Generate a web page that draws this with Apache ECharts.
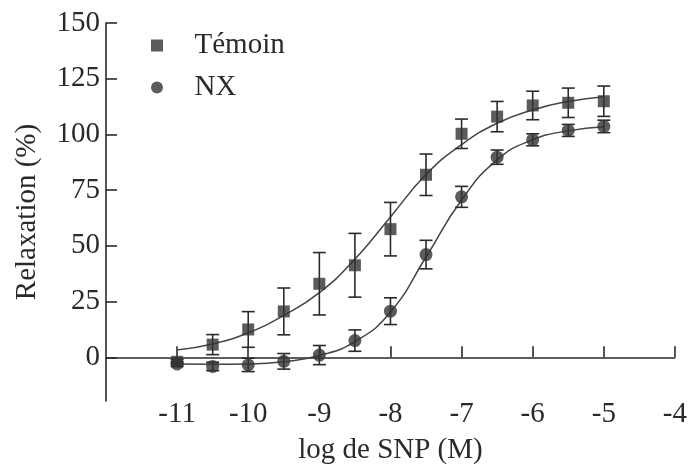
<!DOCTYPE html>
<html>
<head>
<meta charset="utf-8">
<script src="https://cdn.jsdelivr.net/npm/echarts@6/dist/echarts.min.js"></script>
<style>html,body{margin:0;padding:0;background:#fff}#c{width:690px;height:470px}</style>
</head>
<body>
<div id="c"></div>
<script>
// ---- data ----
var doses = [-11, -10.5, -10, -9.5, -9, -8.5, -8, -7.5, -7, -6.5, -6, -5.5, -5];
var temoinMean = [-2, 5.7, 12.5, 20.6, 33, 41.3, 57.5, 81.9, 100.3, 108, 113, 114.2, 114.9];
var temoinSem  = [1, 4.5, 8, 10.5, 14, 14.3, 12, 9.3, 6.6, 6.8, 6.4, 6.6, 6.8];
var nxMean = [-3, -4.1, -3.4, -1.8, 1, 7.5, 20.7, 46.1, 72, 89.8, 97.6, 101.8, 103.6];
var nxSem  = [1, 1.9, 3, 3.5, 4.3, 4.8, 6, 6.4, 4.7, 3.2, 2.7, 2.7, 2.8];
var curveX = [-11, -10.5, -10, -9.5, -9, -8.5, -8, -7.5, -7, -6.5, -6, -5.5, -5];
var temoinCurve = [3.3, 6, 11, 18.8, 29, 44, 63, 82, 95.4, 105, 111, 114.8, 116.9];
var nxCurve = [-3, -3.1, -3, -2, 0.8, 7, 20.3, 45, 70.6, 88.6, 97.6, 101.6, 103.4];
var xTicks = [-11, -10, -9, -8, -7, -6, -5, -4];
var yTicks = [0, 25, 50, 75, 100, 125, 150];
var seriesNames = ['Témoin', 'NX'];
var axisTitles = ['log de SNP (M)', 'Relaxation (%)'];

var FONT = '"Liberation Serif", "DejaVu Serif", serif';
var INK = '#2a2a2a';

function zip(a, b) { return a.map(function (v, i) { return [v, b[i]]; }); }
function errData(m, s) { return doses.map(function (d, i) { return [d, m[i] - s[i], m[i] + s[i]]; }); }

function errRender(params, api) {
  var x = api.value(0);
  var lo = api.coord([x, api.value(1)]);
  var hi = api.coord([x, api.value(2)]);
  var hw = 6.5;
  var st = { stroke: INK, lineWidth: 1.6, fill: null };
  return {
    type: 'group',
    children: [
      { type: 'line', shape: { x1: lo[0], y1: lo[1], x2: hi[0], y2: hi[1] }, style: st },
      { type: 'line', shape: { x1: lo[0] - hw, y1: lo[1], x2: lo[0] + hw, y2: lo[1] }, style: st },
      { type: 'line', shape: { x1: hi[0] - hw, y1: hi[1], x2: hi[0] + hw, y2: hi[1] }, style: st }
    ]
  };
}

var chart = echarts.init(document.getElementById('c'), null, { renderer: 'canvas' });
chart.setOption({
  animation: false,
  backgroundColor: '#fff',
  textStyle: { fontFamily: FONT, color: INK },
  grid: { left: 106, right: 10, top: 23, bottom: 69, containLabel: false },
  legend: {
    data: [
      { name: seriesNames[0], icon: 'path://M0,0L10,0L10,10L0,10Z' },
      { name: seriesNames[1], icon: 'path://M5,0A5,5,0,1,1,5,10A5,5,0,1,1,5,0Z' }
    ],
    orient: 'vertical',
    left: 146, top: 26,
    itemWidth: 65, itemHeight: 12, itemGap: 13,
    symbolKeepAspect: true,
    textStyle: { fontFamily: FONT, fontSize: 29, color: INK }
  },
  xAxis: {
    type: 'value', min: -12, max: -4, interval: 1,
    offset: -10,
    axisLine: { lineStyle: { color: INK, width: 1.6 } },
    axisTick: { inside: true, length: 11, lineStyle: { color: INK, width: 1.6 }, customValues: xTicks },
    axisLabel: { customValues: xTicks, margin: 9, fontFamily: FONT, fontSize: 29, color: INK },
    splitLine: { show: false },
    name: axisTitles[0], nameLocation: 'middle', nameGap: 45,
    nameTextStyle: { fontFamily: FONT, fontSize: 29, color: INK }
  },
  yAxis: {
    type: 'value', min: -19.6, max: 150,
    axisLine: { show: true, lineStyle: { color: INK, width: 1.6 } },
    axisTick: { show: true, inside: true, length: 11, lineStyle: { color: INK, width: 1.6 }, customValues: yTicks },
    axisLabel: { customValues: yTicks, margin: 6, fontFamily: FONT, fontSize: 29, color: INK },
    splitLine: { show: false },
    name: axisTitles[1], nameLocation: 'middle', nameGap: 64, nameRotate: 90,
    nameTextStyle: { fontFamily: FONT, fontSize: 29, color: INK }
  },
  series: [
    { name: 'curveT', type: 'line', data: zip(curveX, temoinCurve), smooth: 0.5, showSymbol: false, symbol: 'none',
      lineStyle: { color: '#444', width: 1.5 }, z: 2, silent: true },
    { name: 'curveN', type: 'line', data: zip(curveX, nxCurve), smooth: 0.5, showSymbol: false, symbol: 'none',
      lineStyle: { color: '#444', width: 1.5 }, z: 2, silent: true },
    { name: 'errT', type: 'custom', data: errData(temoinMean, temoinSem), renderItem: errRender, z: 3, silent: true },
    { name: 'errN', type: 'custom', data: errData(nxMean, nxSem), renderItem: errRender, z: 3, silent: true },
    { name: seriesNames[0], type: 'scatter', data: zip(doses, temoinMean), symbol: 'rect', symbolSize: 12,
      itemStyle: { color: '#333' }, z: 4 },
    { name: seriesNames[1], type: 'scatter', data: zip(doses, nxMean), symbol: 'circle', symbolSize: 13,
      itemStyle: { color: '#333' }, z: 5 }
  ]
});
</script>
</body>
</html>
